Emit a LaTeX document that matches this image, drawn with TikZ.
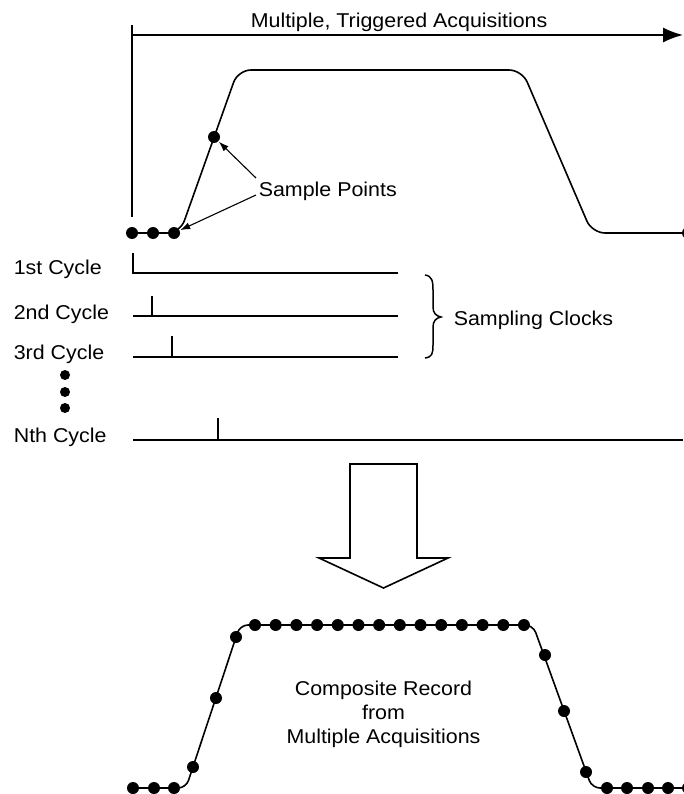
\documentclass[tikz,border=0pt]{standalone}
\usepackage{fontspec}
\setmainfont{Liberation Sans}[FakeStretch=1.07]
\usetikzlibrary{arrows.meta}

\begin{document}
\begin{tikzpicture}[x=1pt, y=-1pt, line width=1.6pt,
  lbl/.style={inner sep=0pt, font=\fontsize{20}{24}\selectfont},
  dot/.style={circle, fill, inner sep=0pt, minimum size=12pt},
  vdot/.style={circle, fill, inner sep=0pt, minimum size=10pt},
  tip/.style={-{Latex[length=10pt,width=7pt]}, line width=1.1pt},
  clock/.style={line width=1.6pt}]
\useasboundingbox (0,0) rectangle (683,794);

% ---- time axis of the triggered acquisitions
\node[lbl, anchor=base west] (title) at (250,28) {Multiple, Triggered Acquisitions};
\coordinate (axtop) at (132,25);
\coordinate (axbot) at (132,217);
\coordinate (axorg) at (132,35);
\coordinate (axend) at (683,35);
\draw (axtop) -- (axbot);
\draw[-{Latex[length=20pt,width=15pt]}] (axorg) -- (axend);

% ---- the repetitive input waveform
\draw[rounded corners=13pt] (132,233) -- (180,233) -- (238,70) -- (522,70) -- (592,233) -- (690,233);
\node[dot] (p1) at (132,233) {};
\node[dot] (p2) at (153,233) {};
\node[dot] (p3) at (174,233) {};
\node[dot] (p4) at (214,137) {};
\node[dot] (p5) at (688,233) {};

\node[lbl, anchor=base west] (sp) at (258,197) {Sample Points};
\coordinate (spa) at (256,178);
\coordinate (spb) at (256,195);
\draw[tip] (spa) -- (p4);
\draw[tip] (spb) -- (p3);

% ---- sampling clocks, one per acquisition cycle
\node[lbl, anchor=base west] (c1) at (13,274) {1st Cycle};
\node[lbl, anchor=base west] (c2) at (13,319) {2nd Cycle};
\node[lbl, anchor=base west] (c3) at (13,359) {3rd Cycle};
\node[lbl, anchor=base west] (cn) at (13,442) {Nth Cycle};

\draw[clock] (133,253) -- (133,273) -- (398,273);
\draw[clock] (133,316) -- (398,316);
\draw[clock] (152,296) -- (152,316);
\draw[clock] (133,357) -- (398,357);
\draw[clock] (172,336) -- (172,357);
\draw[clock] (133,440) -- (683,440);
\draw[clock] (218,418) -- (218,440);

\node[vdot] (v1) at (65,375) {};
\node[vdot] (v2) at (65,392) {};
\node[vdot] (v3) at (65,408) {};

% brace grouping the first clocks
\draw[line width=1.5pt] (425,275) .. controls (432,276) and (433,281) .. (433,290)
  -- (433,307) .. controls (433,313) and (436,316) .. (441,317)
  .. controls (436,318) and (433,321) .. (433,327)
  -- (433,345) .. controls (433,354) and (432,357) .. (425,358);
\node[lbl, anchor=base west] (sc) at (453,325) {Sampling Clocks};

% ---- big hollow arrow
\draw[fill=white] (350,464) -- (417,464) -- (417,558) -- (448,558)
  -- (383.5,588) -- (319,558) -- (350,558) -- cycle;

% ---- reconstructed waveform
\draw[rounded corners=8pt] (133,788) -- (186,788) -- (240,625) -- (533,625) -- (592,788) -- (690,788);
\foreach \x [count=\i] in {133,154,174} \node[dot] (bl\i) at (\x,788) {};
\node[dot] (r1) at (193,767) {};
\node[dot] (r2) at (216,698) {};
\node[dot] (r3) at (236,637) {};
\foreach \i in {0,...,13} \node[dot] (t\i) at ({255+\i*20.69},625) {};
\node[dot] (f1) at (545,655) {};
\node[dot] (f2) at (564,711) {};
\node[dot] (f3) at (586,772) {};
\foreach \x [count=\i] in {607,627,648,668,688} \node[dot] (br\i) at (\x,788) {};

\node[lbl, align=center, anchor=north] (cr) at (383.5,680)
  {Composite Record\\from\\Multiple Acquisitions};
\end{tikzpicture}
\end{document}
